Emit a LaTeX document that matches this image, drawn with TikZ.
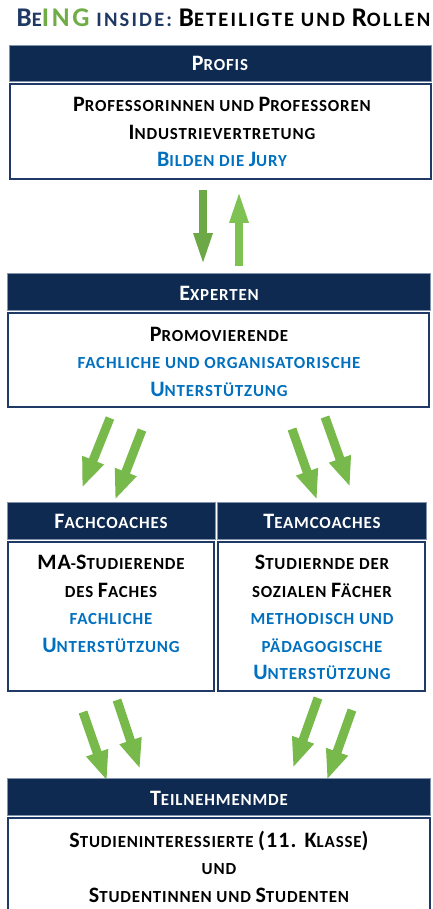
\documentclass[tikz,border=0pt]{standalone}
\usepackage{fontspec}
\setmainfont{Carlito}
\newfontfamily\scfont[LetterSpace=5]{Carlito}
\newfontfamily\titfont[LetterSpace=10.5]{Carlito}
\usetikzlibrary{arrows.meta,fit}
\definecolor{navy}{HTML}{0E2A50}
\definecolor{hdredge}{HTML}{8293AE}
\definecolor{boxline}{HTML}{1F3A66}
\definecolor{bluetxt}{HTML}{0070C0}
\definecolor{titblue}{HTML}{1F3864}
\definecolor{titgreen}{HTML}{70AD47}
\definecolor{gdark}{HTML}{6CA846}
\definecolor{glight}{HTML}{7DC252}
\definecolor{gmid}{HTML}{78B94C}
\newcommand{\Bg}[1]{{\fontsize{22}{22}\selectfont #1}}
\newcommand{\Tg}[1]{{\fontsize{27}{27}\selectfont #1}}
\newcommand{\basefont}{\scfont\fontsize{16.9}{18}\selectfont\bfseries}
\tikzset{
  hdr/.style={fill=navy, draw=hdredge, line width=0.8pt, inner sep=0pt},
  cbox/.style={draw=boxline, line width=1.6pt, fill=white, inner sep=0pt},
  txt/.style={anchor=base, inner sep=0pt, font=\basefont},
  wtxt/.style={txt, text=white},
  btxt/.style={txt, text=bluetxt},
  varrow/.style={line width=8pt, -{Triangle[width=17pt,length=33pt]}},
  darrow/.style={line width=9pt, color=gmid, -{Triangle[width=21pt,length=30pt]}},
}
\begin{document}
\begin{tikzpicture}[x=1pt,y=-1pt]
\useasboundingbox (0,0) rectangle (432,909);
% title
\node[anchor=base, inner sep=0pt, font=\titfont\fontsize{20.5}{24}\selectfont\bfseries] (title) at (223.5,27)
 {{\color{titblue}\Tg{B}E}{\color{titgreen}\Tg{ING}} {\color{titblue}INSIDE:} \Tg{B}ETEILIGTE UND \Tg{R}OLLEN};
% Profis
\node[hdr, fit={(9,45) (431,81)}] (profish) {};
\node[wtxt] (profist) at (220,71) {\Bg{P}ROFIS};
\node[cbox, fit={(10,84) (431,179)}] (profisb) {};
\node[txt] (p1) at (222,112) {\Bg{P}ROFESSORINNEN UND \Bg{P}ROFESSOREN};
\node[txt] (p2) at (222,140) {\Bg{I}NDUSTRIEVERTRETUNG};
\node[btxt] (p3) at (222,167) {\Bg{B}ILDEN DIE \Bg{J}URY};
% Experten
\node[hdr, fit={(7,273) (430,310)}] (exph) {};
\node[wtxt] (expt) at (219,300) {\Bg{E}XPERTEN};
\node[cbox, fit={(8,313) (429,407)}] (expb) {};
\node[txt] (e1) at (219,341) {\Bg{P}ROMOVIERENDE};
\node[btxt] (e2) at (219,368) {FACHLICHE UND ORGANISATORISCHE};
\node[btxt] (e3) at (219,396) {\Bg{U}NTERSTÜTZUNG};
% arrows Profis <-> Experten
\coordinate (a1s) at (203,190); \coordinate (a1e) at (203,266);
\coordinate (a2s) at (239,266); \coordinate (a2e) at (239,190);
\draw[varrow, color=gdark] (a1s) -- (a1e);
\draw[varrow, color=glight] (a2s) -- (a2e);
% arrows Experten -> coaches
\coordinate (b1s) at (110,418); \coordinate (b1e) at (82,488);
\coordinate (b2s) at (142,430); \coordinate (b2e) at (115,500);
\coordinate (b3s) at (292,429); \coordinate (b3e) at (317,500);
\coordinate (b4s) at (325,417); \coordinate (b4e) at (350,487);
\draw[darrow] (b1s) -- (b1e);
\draw[darrow] (b2s) -- (b2e);
\draw[darrow] (b3s) -- (b3e);
\draw[darrow] (b4s) -- (b4e);
% Fachcoaches
\node[hdr, fit={(7,502) (215,539)}] (fachh) {};
\node[wtxt] (facht) at (111,528) {\Bg{F}ACHCOACHES};
\node[cbox, fit={(8,542) (214,691)}] (fachb) {};
\node[txt] (f1) at (111,569) {\Bg{MA}-\Bg{S}TUDIERENDE};
\node[txt] (f2) at (111,597) {DES \Bg{F}ACHES};
\node[btxt] (f3) at (111,624) {FACHLICHE};
\node[btxt] (f4) at (111,652) {\Bg{U}NTERSTÜTZUNG};
% Teamcoaches
\node[hdr, fit={(217,502) (426,539)}] (teamh) {};
\node[wtxt] (teamt) at (322,528) {\Bg{T}EAMCOACHES};
\node[cbox, fit={(218,542) (425,691)}] (teamb) {};
\node[txt] (t1) at (322,569) {\Bg{S}TUDIERNDE DER};
\node[txt] (t2) at (322,597) {SOZIALEN \Bg{F}ÄCHER};
\node[btxt] (t3) at (322,624) {METHODISCH UND};
\node[btxt] (t4) at (322,652) {PÄDAGOGISCHE};
\node[btxt] (t5) at (322,679) {\Bg{U}NTERSTÜTZUNG};
% arrows coaches -> Teilnehmende
\coordinate (c1s) at (83,712); \coordinate (c1e) at (107,781);
\coordinate (c2s) at (117,700); \coordinate (c2e) at (140,769);
\coordinate (c3s) at (318,698); \coordinate (c3e) at (293,768);
\coordinate (c4s) at (352,710); \coordinate (c4e) at (327,780);
\draw[darrow] (c1s) -- (c1e);
\draw[darrow] (c2s) -- (c2e);
\draw[darrow] (c3s) -- (c3e);
\draw[darrow] (c4s) -- (c4e);
% Teilnehmende
\node[hdr, fit={(7,778) (430,815)}] (teilh) {};
\node[wtxt] (teilt) at (219,805) {\Bg{T}EILNEHMENMDE};
\node[cbox, fit={(8,818) (430,960)}] (teilb) {};
\node[txt] (s1) at (219,847) {\Bg{S}TUDIENINTERESSIERTE \Bg{(11. K}LASSE\Bg{)}};
\node[txt] (s2) at (219,874) {UND};
\node[txt] (s3) at (219,902) {\Bg{S}TUDENTINNEN UND \Bg{S}TUDENTEN};
\end{tikzpicture}
\end{document}
